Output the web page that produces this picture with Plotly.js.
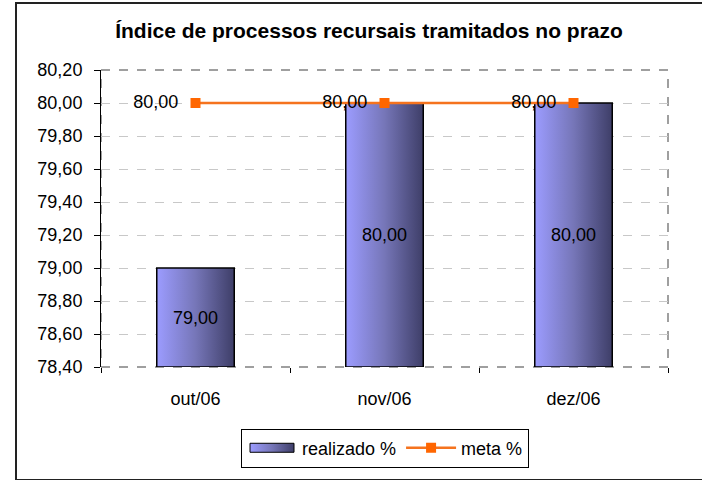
<!DOCTYPE html>
<html>
<head>
<meta charset="utf-8">
<script src="https://cdn.plot.ly/plotly-3.0.1.min.js"></script>
<style>
html,body{margin:0;padding:0;background:#fff;overflow:hidden;}
#wrap{position:relative;width:702px;height:480px;overflow:hidden;}
#chart{width:702px;height:480px;}
#frame{position:absolute;left:15px;top:2px;width:800px;height:475px;border:2px solid #222;pointer-events:none;}
</style>
</head>
<body>
<div id="wrap"><div id="chart"></div><div id="frame"></div></div>
<script>
var categories = ['out/06', 'nov/06', 'dez/06'];
var realizado = [79.00, 80.00, 80.00];
var meta = [80.00, 80.00, 80.00];

var FONT = 'Liberation Sans, Arial, sans-serif';
var FS = 18;

var traces = [
  {
    type: 'bar', name: 'realizado %', x: categories, y: realizado.map(function(v){return v - 78.4;}), base: 78.4,
    marker: {color: '#7070B8', line: {color: '#000', width: 1.5}},
    text: realizado.map(function(v){return v.toFixed(2).replace('.', ',');}),
    textposition: 'inside', insidetextanchor: 'middle', constraintext: 'none',
    textfont: {family: FONT, size: FS, color: '#000'},
    hoverinfo: 'skip'
  },
  {
    type: 'scatter', mode: 'lines+markers+text', name: 'meta %', x: categories, y: meta,
    line: {color: '#F5731E', width: 2.5},
    marker: {symbol: 'square', size: 10, color: '#FF6600'},
    text: meta.map(function(v){return v.toFixed(2).replace('.', ',') + '\u00a0\u00a0';}),
    textposition: 'middle left',
    textfont: {family: FONT, size: FS, color: '#000'},
    cliponaxis: false,
    hoverinfo: 'skip'
  }
];

var layout = {
  width: 702, height: 480,
  margin: {l: 101, r: 34, t: 70, b: 110},
  paper_bgcolor: '#fff', plot_bgcolor: '#fff',
  font: {family: FONT, size: FS, color: '#000'},
  separators: ',.',
  title: {text: '<b>Índice de processos recursais tramitados no prazo</b>', font: {family: FONT, size: 21, color: '#000'}, xref: 'container', x: 369/702, xanchor: 'center', yref: 'container', y: 1 - 31/480, yanchor: 'middle'},
  bargap: 0.59,
  showlegend: true,
  legend: {orientation: 'h', x: 0.5009, xanchor: 'center', y: -0.273, yanchor: 'middle', bordercolor: '#000', borderwidth: 1, font: {family: FONT, size: FS}, bgcolor: '#fff', itemwidth: 50, tracegroupgap: 0},
  xaxis: {
    type: 'category', showline: false, showgrid: false, zeroline: false,
    ticks: 'outside', tickson: 'boundaries', ticklen: 5, tickcolor: '#000',
    ticklabelstandoff: 19,
    tickfont: {family: FONT, size: FS}, fixedrange: true
  },
  yaxis: {
    range: [78.4, 80.2], dtick: 0.2, tick0: 78.4, tickformat: '.2f',
    showline: true, linecolor: '#000', linewidth: 1,
    ticks: 'outside', ticklen: 6, tickcolor: '#000', ticklabelstandoff: 8,
    showgrid: true, gridcolor: '#c8c8c8', griddash: 'dash', gridwidth: 1,
    zeroline: false, tickfont: {family: FONT, size: FS}, fixedrange: true
  },
  shapes: [
    {type: 'rect', xref: 'paper', yref: 'paper', x0: 0, x1: 1, y0: 0, y1: 1, layer: 'below',
     line: {color: '#808080', width: 1.5, dash: 'dash'}}
  ]
};

function applyGradient(gd) {
  var svg = gd.querySelector('svg.main-svg');
  if (!svg) return;
  var defs = svg.querySelector('defs');
  if (!defs) { defs = document.createElementNS('http://www.w3.org/2000/svg', 'defs'); svg.insertBefore(defs, svg.firstChild); }
  if (!document.getElementById('barGrad')) {
    var g = document.createElementNS('http://www.w3.org/2000/svg', 'linearGradient');
    g.setAttribute('id', 'barGrad');
    g.setAttribute('x1', '0'); g.setAttribute('y1', '0'); g.setAttribute('x2', '1'); g.setAttribute('y2', '0');
    [['0%', '#9C9CFF'], ['50%', '#7676B8'], ['100%', '#3E3E68']].forEach(function(s){
      var st = document.createElementNS('http://www.w3.org/2000/svg', 'stop');
      st.setAttribute('offset', s[0]); st.setAttribute('stop-color', s[1]);
      g.appendChild(st);
    });
    defs.appendChild(g);
  }
  gd.querySelectorAll('.barlayer .point path').forEach(function(p){ p.style.fill = 'url(#barGrad)'; });
  var legendPaths = gd.querySelectorAll('path');
  legendPaths.forEach(function(p){
    var d = (p.getAttribute('d') || '').replace(/\s/g, '');
    var cls = p.getAttribute('class') || '';
    if (d === 'M6,6H-6V-6H6Z' || cls.indexOf('legendbar') >= 0 || p.getAttribute('data-legbar') === '1') {
      p.setAttribute('data-legbar', '1');
      p.setAttribute('d', 'M-22,4.5H22V-4.5H-22Z');
      p.style.fill = 'url(#barGrad)';
      p.style.stroke = '#000';
      p.style.strokeWidth = '1px';
    }
  });
}

var gd = document.getElementById('chart');
Plotly.newPlot(gd, traces, layout, {staticPlot: true, displayModeBar: false}).then(function(){
  applyGradient(gd);
  setTimeout(function(){ applyGradient(gd); }, 50);
  setTimeout(function(){ applyGradient(gd); }, 300);
});
</script>
</body>
</html>
